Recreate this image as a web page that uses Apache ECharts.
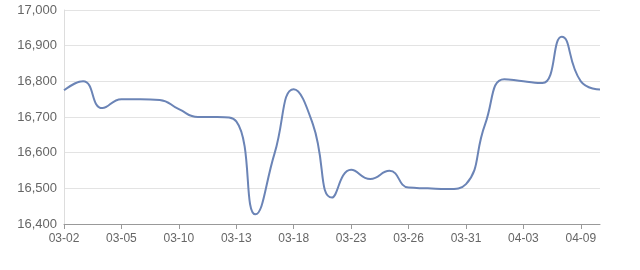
<!DOCTYPE html>
<html>
<head>
<meta charset="utf-8">
<script src="https://cdn.jsdelivr.net/npm/echarts@6/dist/echarts.min.js"></script>
<style>html,body{margin:0;padding:0;background:#fff;}#c{width:640px;height:270px;}</style>
</head>
<body>
<div id="c"></div>
<script>
var categories = ['03-02','03-03','03-04','03-05','03-06','03-09','03-10','03-11','03-12','03-13','03-16','03-17','03-18','03-19','03-20','03-23','03-24','03-25','03-26','03-27','03-30','03-31','04-01','04-02','04-03','04-07','04-08','04-09','04-10'];
var values = [16775,16800,16725,16750,16750,16748,16722,16700,16700,16688,16427,16598,16778,16680,16474,16552,16526,16549,16502,16500,16498,16512,16680,16806,16800,16795,16925,16800,16777];
var yMin = 16400, yMax = 17000, yStep = 100;

var chart = echarts.init(document.getElementById('c'), null, {renderer:'canvas'});
chart.setOption({
  animation:false,
  grid:{left:64, right:40, top:10, bottom:46},
  xAxis:{
    type:'category', data:categories, boundaryGap:false,
    axisLine:{lineStyle:{color:'#999'}},
    axisTick:{alignWithLabel:true, interval:2, lineStyle:{color:'#999'}},
    axisLabel:{interval:2, color:'#666', fontSize:12, margin:9, fontFamily:'Liberation Sans, Arial, sans-serif'},
    splitLine:{show:false}
  },
  yAxis:{
    type:'value', min:yMin, max:yMax, interval:yStep,
    axisLine:{show:true, lineStyle:{color:'#ddd'}},
    axisTick:{show:false},
    axisLabel:{color:'#666', fontSize:13, margin:7, fontFamily:'Liberation Sans, Arial, sans-serif',
      formatter:function(v){return v.toLocaleString('en-US');}},
    splitLine:{lineStyle:{color:'#e3e3e3'}}
  },
  series:[{
    type:'line', data:values, smooth:true, showSymbol:false,
    lineStyle:{color:'#6b84b6', width:2},
    itemStyle:{color:'#6b84b6'}
  }]
});
</script>
</body>
</html>
